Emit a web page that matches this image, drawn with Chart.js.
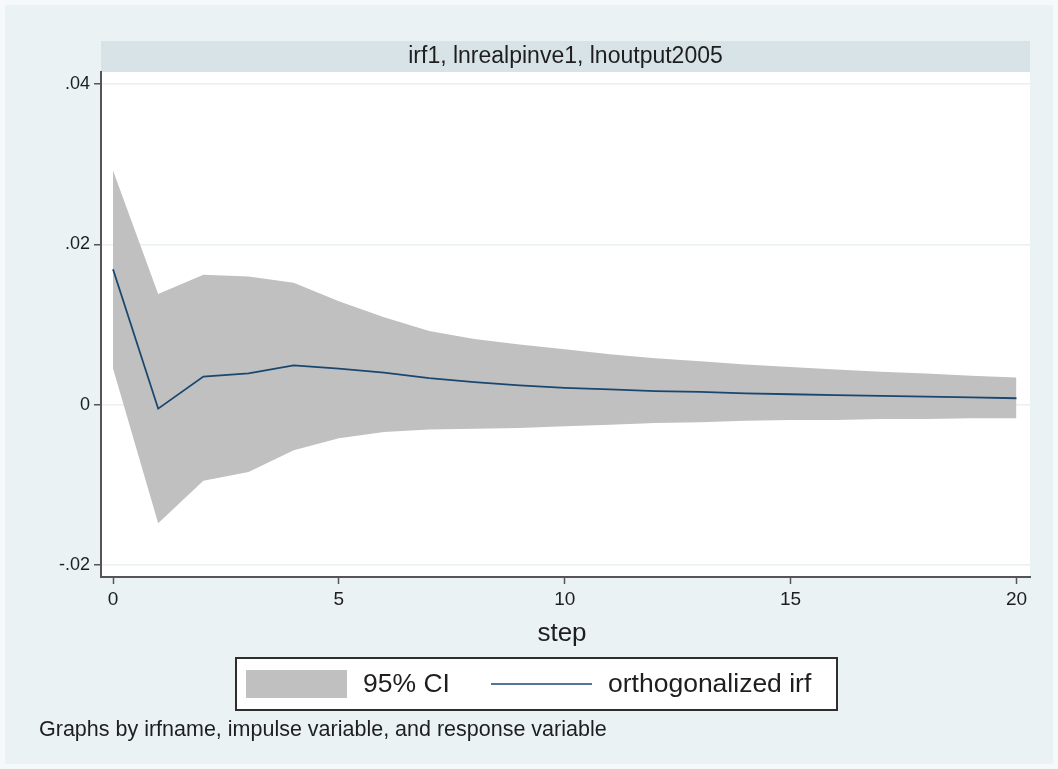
<!DOCTYPE html>
<html>
<head>
<meta charset="utf-8">
<title>irf1, lnrealpinve1, lnoutput2005</title>
<script src="https://cdn.jsdelivr.net/npm/chart.js@4/dist/chart.umd.min.js"></script>
<style>
  html, body { margin: 0; padding: 0; background: #ffffff; }
  canvas { display: block; }
</style>
</head>
<body>
<canvas id="irfChart" width="1058" height="769"></canvas>
<script>
// impulse response: lnrealpinve1 -> lnoutput2005, steps 0..20
const steps = [0, 1, 2, 3, 4, 5, 6, 7, 8, 9, 10, 11, 12, 13, 14, 15, 16, 17, 18, 19, 20];
const irf = [0.0169, -0.0005, 0.0035, 0.0039, 0.0049, 0.0045, 0.0040, 0.0033, 0.0028, 0.0024, 0.0021,
  0.0019, 0.0017, 0.0016, 0.0014, 0.0013, 0.0012, 0.0011, 0.0010, 0.0009, 0.0008];
const ciUpper = [0.0292, 0.0138, 0.0162, 0.0160, 0.0152, 0.0129, 0.0109, 0.0092, 0.0082, 0.0075, 0.0069,
  0.0063, 0.0058, 0.0054, 0.0050, 0.0047, 0.0044, 0.0041, 0.0039, 0.0036, 0.0034];
const ciLower = [0.0045, -0.0148, -0.0095, -0.0084, -0.0057, -0.0042, -0.0034, -0.0031, -0.0030, -0.0029, -0.0027,
  -0.0025, -0.0023, -0.0022, -0.0020, -0.0019, -0.0019, -0.0018, -0.0018, -0.0017, -0.0017];

const yTicks = [-0.02, 0, 0.02, 0.04];
const yTickLabels = ['-.02', '0', '.02', '.04'];
const xTicks = [0, 5, 10, 15, 20];
const xTickLabels = ['0', '5', '10', '15', '20'];

const panelTitle = 'irf1, lnrealpinve1, lnoutput2005';
const xTitle = 'step';
const note = 'Graphs by irfname, impulse variable, and response variable';

const FONT = "'Liberation Sans', Arial, Helvetica, sans-serif";
const TEXT = '#1e1e1e';
const AXIS = '#555555';
const BAND = '#c0c0c0';
const NAVY = '#1a476f';

const toPoints = arr => arr.map((v, i) => ({ x: steps[i], y: v }));

// background, by-panel strip, legend box and note
const stataFrame = {
  id: 'stataFrame',
  beforeDraw(chart) {
    const ctx = chart.ctx;
    const a = chart.chartArea;
    ctx.save();
    ctx.fillStyle = '#f6f9fa';
    ctx.fillRect(0, 0, chart.width, chart.height);
    ctx.fillStyle = '#eaf2f3';
    ctx.fillRect(5, 5, chart.width - 10, chart.height - 10);
    // panel strip
    ctx.fillStyle = '#d8e3e8';
    ctx.fillRect(a.left, 41, a.right - a.left, a.top - 41);
    ctx.fillStyle = TEXT;
    ctx.font = '23px ' + FONT;
    ctx.textAlign = 'center';
    ctx.textBaseline = 'middle';
    ctx.fillText(panelTitle, (a.left + a.right) / 2, 57);
    // plot region
    ctx.fillStyle = '#ffffff';
    ctx.fillRect(a.left, a.top, a.right - a.left, a.bottom - a.top);
    ctx.restore();
  },
  afterDraw(chart) {
    const ctx = chart.ctx;
    const a = chart.chartArea;
    const ds = chart.data.datasets;
    ctx.save();
    ctx.fillStyle = TEXT;
    ctx.textBaseline = 'middle';
    ctx.textAlign = 'center';
    ctx.font = '26px ' + FONT;
    ctx.fillText(xTitle, 562, 634);

    // legend
    ctx.fillStyle = '#ffffff';
    ctx.fillRect(236, 658, 601, 52);
    ctx.strokeStyle = '#2e2e2e';
    ctx.lineWidth = 2;
    ctx.strokeRect(236, 658, 601, 52);
    ctx.fillStyle = BAND;
    ctx.fillRect(246, 670, 101, 28);
    ctx.strokeStyle = NAVY;
    ctx.lineWidth = 1.7;
    ctx.beginPath();
    ctx.moveTo(491, 684);
    ctx.lineTo(592, 684);
    ctx.stroke();
    ctx.fillStyle = TEXT;
    ctx.textAlign = 'left';
    ctx.font = '26.5px ' + FONT;
    ctx.fillText(ds[1].label, 363, 685);
    ctx.fillText(ds[0].label, 608, 685);

    ctx.font = '21.5px ' + FONT;
    ctx.fillText(note, 39, 730);
    ctx.restore();
  }
};

new Chart(document.getElementById('irfChart'), {
  type: 'line',
  data: {
    datasets: [{
      label: 'orthogonalized irf',
      data: toPoints(irf),
      borderColor: NAVY,
      borderWidth: 1.8,
      pointRadius: 0,
      tension: 0,
      fill: false
    }, {
      label: '95% CI',
      data: toPoints(ciUpper),
      borderWidth: 0,
      borderColor: 'rgba(0,0,0,0)',
      backgroundColor: BAND,
      pointRadius: 0,
      tension: 0,
      fill: '+1'
    }, {
      label: '95% CI lower',
      data: toPoints(ciLower),
      borderWidth: 0,
      borderColor: 'rgba(0,0,0,0)',
      pointRadius: 0,
      tension: 0,
      fill: false
    }]
  },
  options: {
    responsive: false,
    animation: false,
    events: [],
    layout: { padding: { top: 72, right: 28, left: 0, bottom: 0 } },
    plugins: {
      legend: { display: false },
      tooltip: { enabled: false }
    },
    scales: {
      x: {
        type: 'linear',
        min: -0.266,
        max: 20.3,
        afterFit: s => { s.height = 192; },
        afterBuildTicks: s => { s.ticks = xTicks.map(v => ({ value: v })); },
        border: { color: AXIS, width: 2 },
        grid: { drawOnChartArea: false, tickColor: AXIS, tickLength: 7, tickWidth: 1.5 },
        ticks: {
          color: TEXT,
          padding: 4,
          maxRotation: 0,
          font: { family: FONT, size: 19 },
          callback: v => xTickLabels[xTicks.indexOf(v)]
        }
      },
      y: {
        type: 'linear',
        min: -0.0215,
        max: 0.0415,
        afterFit: s => { s.width = 101; },
        afterBuildTicks: s => { s.ticks = yTicks.map(v => ({ value: v })); },
        border: { color: AXIS, width: 2 },
        grid: { color: '#eaf0f2', lineWidth: 1.5, tickColor: AXIS, tickLength: 7, tickWidth: 1.5 },
        ticks: {
          color: TEXT,
          padding: 4,
          font: { family: FONT, size: 18 },
          callback: v => yTickLabels[yTicks.indexOf(v)]
        }
      }
    }
  },
  plugins: [stataFrame]
});
</script>
</body>
</html>
